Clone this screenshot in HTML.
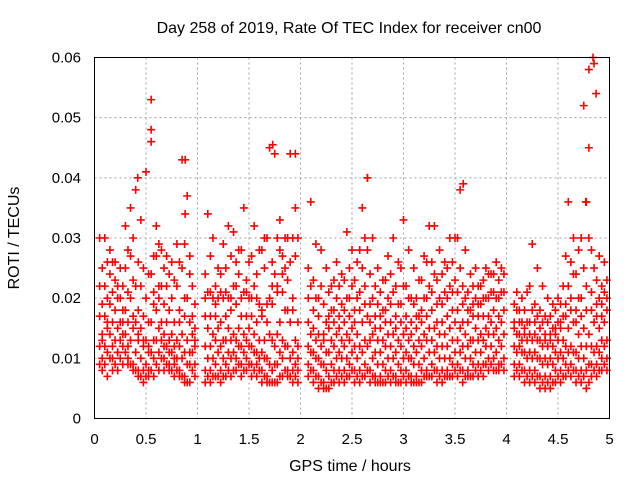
<!DOCTYPE html>
<html><head><meta charset="utf-8"><style>
body{margin:0;background:#fff}
svg text{font-family:"Liberation Sans",sans-serif;fill:#000}
</style></head><body>
<svg id="c" width="640" height="480" xmlns="http://www.w3.org/2000/svg"></svg>
<script>
const times=[0.05,0.1,0.15,0.2,0.25,0.3,0.35,0.4,0.45,0.5,0.55,0.6,0.65,0.7,0.75,0.8,0.85,0.9,0.95,
1.1,1.15,1.2,1.25,1.3,1.35,1.4,1.45,1.5,1.55,1.6,1.65,1.7,1.75,1.8,1.85,1.9,1.95,
2.1,2.15,2.2,2.25,2.3,2.35,2.4,2.45,2.5,2.55,2.6,2.65,2.7,2.75,2.8,2.85,2.9,2.95,3.0,3.05,3.1,3.15,3.2,3.25,3.3,3.35,3.4,3.45,3.5,3.55,3.6,3.65,3.7,3.75,3.8,3.85,3.9,3.95,
4.1,4.15,4.2,4.25,4.3,4.35,4.4,4.45,4.5,4.55,4.6,4.65,4.7,4.75,4.8,4.85,4.9,4.95];
const lowVals=[0.009,0.009,0.010,0.009,0.010,0.011,0.009,0.008,0.007,0.007,0.008,0.009,0.010,0.009,0.008,0.008,0.007,0.006,0.008,
0.007,0.007,0.007,0.007,0.008,0.008,0.009,0.008,0.009,0.008,0.008,0.007,0.006,0.006,0.007,0.008,0.007,0.007,
0.008,0.007,0.006,0.005,0.006,0.007,0.007,0.007,0.008,0.007,0.007,0.008,0.007,0.006,0.006,0.007,0.007,0.006,0.007,0.007,0.006,0.006,0.007,0.007,0.008,0.007,0.007,0.007,0.008,0.008,0.007,0.007,0.008,0.008,0.009,0.009,0.008,0.009,
0.008,0.008,0.007,0.007,0.007,0.006,0.006,0.006,0.007,0.007,0.008,0.008,0.007,0.007,0.006,0.008,0.008,0.009];
const q1Vals=[0.012,0.012,0.014,0.013,0.013,0.014,0.013,0.011,0.010,0.009,0.011,0.013,0.013,0.012,0.011,0.010,0.010,0.009,0.011,
0.010,0.010,0.011,0.010,0.011,0.011,0.012,0.011,0.012,0.011,0.010,0.010,0.009,0.009,0.011,0.012,0.010,0.009,
0.011,0.010,0.009,0.008,0.009,0.010,0.010,0.010,0.011,0.010,0.011,0.012,0.010,0.009,0.009,0.010,0.010,0.009,0.010,0.010,0.009,0.009,0.010,0.011,0.011,0.010,0.010,0.010,0.011,0.011,0.010,0.010,0.011,0.011,0.012,0.012,0.011,0.012,
0.011,0.011,0.010,0.010,0.010,0.009,0.009,0.009,0.010,0.010,0.011,0.011,0.010,0.010,0.009,0.011,0.011,0.012];
const midVals=[0.017,0.017,0.019,0.018,0.016,0.018,0.020,0.016,0.015,0.013,0.016,0.018,0.016,0.016,0.014,0.013,0.014,0.013,0.014,
0.015,0.014,0.015,0.013,0.015,0.014,0.015,0.014,0.015,0.014,0.013,0.013,0.014,0.012,0.016,0.018,0.016,0.013,
0.014,0.013,0.012,0.011,0.013,0.014,0.013,0.014,0.015,0.014,0.016,0.017,0.014,0.013,0.013,0.014,0.014,0.013,0.014,0.013,0.012,0.013,0.014,0.015,0.015,0.014,0.014,0.015,0.016,0.015,0.014,0.013,0.015,0.014,0.015,0.016,0.015,0.016,
0.014,0.013,0.013,0.013,0.013,0.012,0.012,0.012,0.013,0.013,0.015,0.016,0.014,0.015,0.014,0.016,0.015,0.016];
const q3Vals=[0.022,0.022,0.024,0.023,0.020,0.025,0.027,0.022,0.022,0.020,0.024,0.027,0.022,0.022,0.020,0.022,0.025,0.020,0.017,
0.021,0.020,0.020,0.020,0.020,0.022,0.024,0.021,0.020,0.022,0.019,0.025,0.020,0.024,0.028,0.025,0.026,0.027,
0.022,0.020,0.022,0.016,0.018,0.020,0.019,0.020,0.022,0.020,0.025,0.028,0.020,0.019,0.018,0.020,0.021,0.019,0.022,0.020,0.019,0.017,0.020,0.022,0.024,0.020,0.021,0.022,0.023,0.025,0.020,0.018,0.020,0.019,0.020,0.021,0.020,0.021,
0.018,0.016,0.016,0.018,0.017,0.016,0.016,0.015,0.016,0.017,0.022,0.024,0.020,0.025,0.030,0.025,0.020,0.021];
const highVals=[0.030,0.030,0.028,0.026,0.025,0.032,0.035,0.038,0.033,0.041,0.048,0.032,0.028,0.027,0.026,0.029,0.043,0.037,0.022,
0.034,0.030,0.025,0.029,0.032,0.031,0.028,0.035,0.026,0.032,0.028,0.030,0.045,0.044,0.033,0.030,0.044,0.035,
0.036,0.029,0.028,0.025,0.022,0.026,0.024,0.031,0.028,0.026,0.035,0.040,0.030,0.025,0.023,0.027,0.030,0.026,0.033,0.028,0.025,0.023,0.027,0.032,0.032,0.028,0.026,0.030,0.030,0.038,0.028,0.024,0.025,0.022,0.025,0.024,0.026,0.025,
0.021,0.020,0.021,0.029,0.025,0.022,0.020,0.019,0.020,0.022,0.036,0.030,0.028,0.052,0.058,0.059,0.027,0.026];

const times2=[0.075,0.125,0.175,0.225,0.275,0.325,0.375,0.425,0.475,0.525,0.575,0.625,0.675,0.725,0.775,0.825,0.875,0.925,0.975,
1.075,1.125,1.175,1.225,1.275,1.325,1.375,1.425,1.475,1.525,1.575,1.625,1.675,1.725,1.775,1.825,1.875,1.925,1.975,
2.075,2.125,2.175,2.225,2.275,2.325,2.375,2.425,2.475,2.525,2.575,2.625,2.675,2.725,2.775,2.825,2.875,2.925,2.975,3.025,3.075,3.125,3.175,3.225,3.275,3.325,3.375,3.425,3.475,3.525,3.575,3.625,3.675,3.725,3.775,3.825,3.875,3.925,3.975,
4.075,4.125,4.175,4.225,4.275,4.325,4.375,4.425,4.475,4.525,4.575,4.625,4.675,4.725,4.775,4.825,4.875,4.925,4.975];
const b1Vals=[.010,.011,.010,.011,.012,.010,.009,.008,.008,.008,.010,.011,.010,.009,.009,.008,.007,.009,.009,
.008,.008,.009,.008,.009,.010,.010,.009,.010,.009,.009,.008,.007,.008,.009,.010,.008,.008,.008,
.009,.008,.007,.006,.007,.008,.008,.008,.009,.008,.008,.009,.008,.007,.007,.008,.008,.007,.008,.008,.007,.007,.008,.008,.009,.008,.008,.008,.009,.009,.008,.008,.009,.009,.009,.010,.010,.009,.010,
.009,.009,.008,.008,.008,.007,.007,.007,.008,.008,.009,.009,.008,.008,.008,.009,.009,.010,.010];
const b2Vals=[.014,.015,.016,.015,.014,.016,.015,.013,.012,.011,.013,.015,.014,.013,.012,.012,.011,.011,.012,
.012,.012,.013,.012,.013,.013,.013,.012,.013,.012,.011,.011,.010,.013,.014,.013,.012,.011,.010,
.012,.011,.010,.009,.011,.012,.011,.012,.013,.012,.012,.013,.013,.011,.011,.012,.012,.011,.012,.011,.010,.011,.012,.013,.013,.012,.012,.012,.013,.013,.012,.012,.013,.013,.013,.014,.014,.013,.014,
.012,.012,.011,.011,.011,.010,.010,.010,.011,.011,.012,.012,.011,.012,.012,.012,.012,.013,.013];
const b3Vals=[.019,.020,.021,.020,.018,.021,.023,.018,.017,.016,.019,.022,.019,.018,.016,.016,.017,.016,.015,
.017,.017,.017,.016,.017,.018,.019,.017,.017,.017,.016,.017,.016,.019,.021,.021,.018,.020,.016,
.016,.015,.014,.013,.015,.016,.015,.016,.017,.016,.018,.019,.016,.015,.015,.016,.016,.015,.016,.015,.014,.015,.016,.017,.018,.016,.016,.017,.018,.018,.016,.016,.017,.017,.017,.017,.018,.017,.018,
.015,.014,.014,.014,.014,.013,.013,.013,.014,.015,.017,.018,.016,.017,.018,.018,.017,.017,.018];
const b4Vals=[.025,.026,.026,.022,.022,.028,.030,.026,.025,.024,.027,.029,.025,.024,.023,.026,.029,.027,.019,
.024,.027,.022,.024,.025,.027,.026,.028,.023,.027,.024,.028,.030,.026,.030,.027,.030,.030,.030,
.025,.023,.020,.019,.021,.023,.022,.023,.025,.023,.028,.030,.024,.022,.021,.023,.024,.022,.025,.022,.020,.020,.023,.026,.026,.023,.024,.025,.026,.030,.022,.021,.022,.022,.023,.024,.024,.023,.024,
.019,.018,.018,.022,.019,.018,.017,.017,.018,.019,.027,.026,.024,.030,.036,.028,.023,.022,.023];
const b5Vals=[.008,.007,.008,.008,.009,.009,.008,.007,.006,.007,.007,.008,.008,.008,.007,.007,.006,.006,.007,
.006,.006,.007,.006,.007,.007,.008,.007,.008,.007,.007,.006,.006,.006,.006,.007,.007,.006,.006,
.007,.006,.005,.005,.005,.006,.006,.006,.007,.006,.006,.007,.006,.006,.006,.006,.006,.006,.006,.006,.006,.006,.006,.007,.007,.006,.006,.007,.007,.007,.006,.007,.007,.007,.007,.008,.008,.008,.008,
.007,.007,.006,.006,.006,.005,.005,.005,.006,.006,.007,.007,.006,.006,.005,.007,.007,.008,.008];
const b6Vals=[.013,.016,.012,.011,.016,.012,.017,.014,.013,.012,.021,.020,.012,.011,.010,.018,.020,.024,.013,
.020,.021,.019,.021,.021,.020,.022,.020,.021,.020,.020,.018,.019,.022,.022,.024,.023,.018,.012,
.020,.018,.017,.014,.017,.018,.017,.018,.020,.018,.021,.022,.019,.017,.017,.018,.019,.017,.019,.017,.016,.017,.018,.020,.021,.019,.019,.020,.021,.021,.019,.018,.019,.019,.020,.020,.021,.020,.021,
.016,.016,.015,.016,.016,.015,.014,.014,.015,.016,.019,.020,.018,.020,.022,.021,.019,.019,.020];

const outlierT=[0.55,0.55,0.88,0.88,1.73,1.95,4.84,4.87,4.8,4.77,0.42,2.65,3.58];
const outlierV=[0.053,0.046,0.043,0.034,0.0455,0.044,0.060,0.054,0.045,0.036,0.040,0.040,0.039];
const xTicks=[0,0.5,1,1.5,2,2.5,3,3.5,4,4.5,5];
const xTickLabels=["0","0.5","1","1.5","2","2.5","3","3.5","4","4.5","5"];
const yTicks=[0,0.01,0.02,0.03,0.04,0.05,0.06];
const yTickLabels=["0","0.01","0.02","0.03","0.04","0.05","0.06"];

const L=94.5,R=609.5,T=57.5,B=418.5;
const X=v=>L+(v/5)*(R-L), Y=v=>B-(v/0.06)*(B-T);
const svg=document.getElementById('c'), NS="http://www.w3.org/2000/svg";
function mk(tag,attrs){const e=document.createElementNS(NS,tag);for(const k in attrs)e.setAttribute(k,attrs[k]);svg.appendChild(e);return e;}

xTicks.forEach((v,i)=>{
  if(i>0&&i<xTicks.length-1){const g=mk('line',{x1:X(v),x2:X(v),y1:T,y2:B,stroke:'#a0a0a0','stroke-dasharray':'2,3'});
  
  }
  const t=mk('text',{x:X(v),y:444,'text-anchor':'middle','font-size':'15'});t.textContent=xTickLabels[i];
  
  
});
yTicks.forEach((v,i)=>{
  if(i>0&&i<yTicks.length-1){const g=mk('line',{x1:L,x2:R,y1:Y(v),y2:Y(v),stroke:'#a0a0a0','stroke-dasharray':'2,3'});
  
  }
  const t=mk('text',{x:81,y:Y(v)+5,'text-anchor':'end','font-size':'15'});t.textContent=yTickLabels[i];
  
  
});
function plus(t,v){
  const x=X(t),y=Y(v);
  const p=mk('path',{d:`M${x-4},${y}h8M${x},${y-4}v8`,stroke:'#ff0000','stroke-width':'1.6'});
  
  
}
const series=[lowVals,q1Vals,midVals,q3Vals,highVals];
times.forEach((t,i)=>series.forEach(s=>plus(t,s[i])));
const series2=[b1Vals,b2Vals,b3Vals,b4Vals,b5Vals,b6Vals];
times2.forEach((t,i)=>series2.forEach(s=>{if(s[i]!==undefined)plus(t,s[i]);}));
outlierT.forEach((t,i)=>plus(t,outlierV[i]));
const fr=mk('rect',{x:L,y:T,width:R-L,height:B-T,fill:'none',stroke:'#000','stroke-width':'1'});


const ti=mk('text',{x:349,y:33,'text-anchor':'middle','font-size':'16'});ti.textContent='Day 258 of 2019, Rate Of TEC Index for receiver cn00';


const xl=mk('text',{x:350,y:471,'text-anchor':'middle','font-size':'16'});xl.textContent='GPS time / hours';


const yl=mk('text',{x:0,y:0,'text-anchor':'middle','font-size':'16',transform:'translate(19,238) rotate(-90)'});yl.textContent='ROTI / TECUs';


</script>
</body></html>
